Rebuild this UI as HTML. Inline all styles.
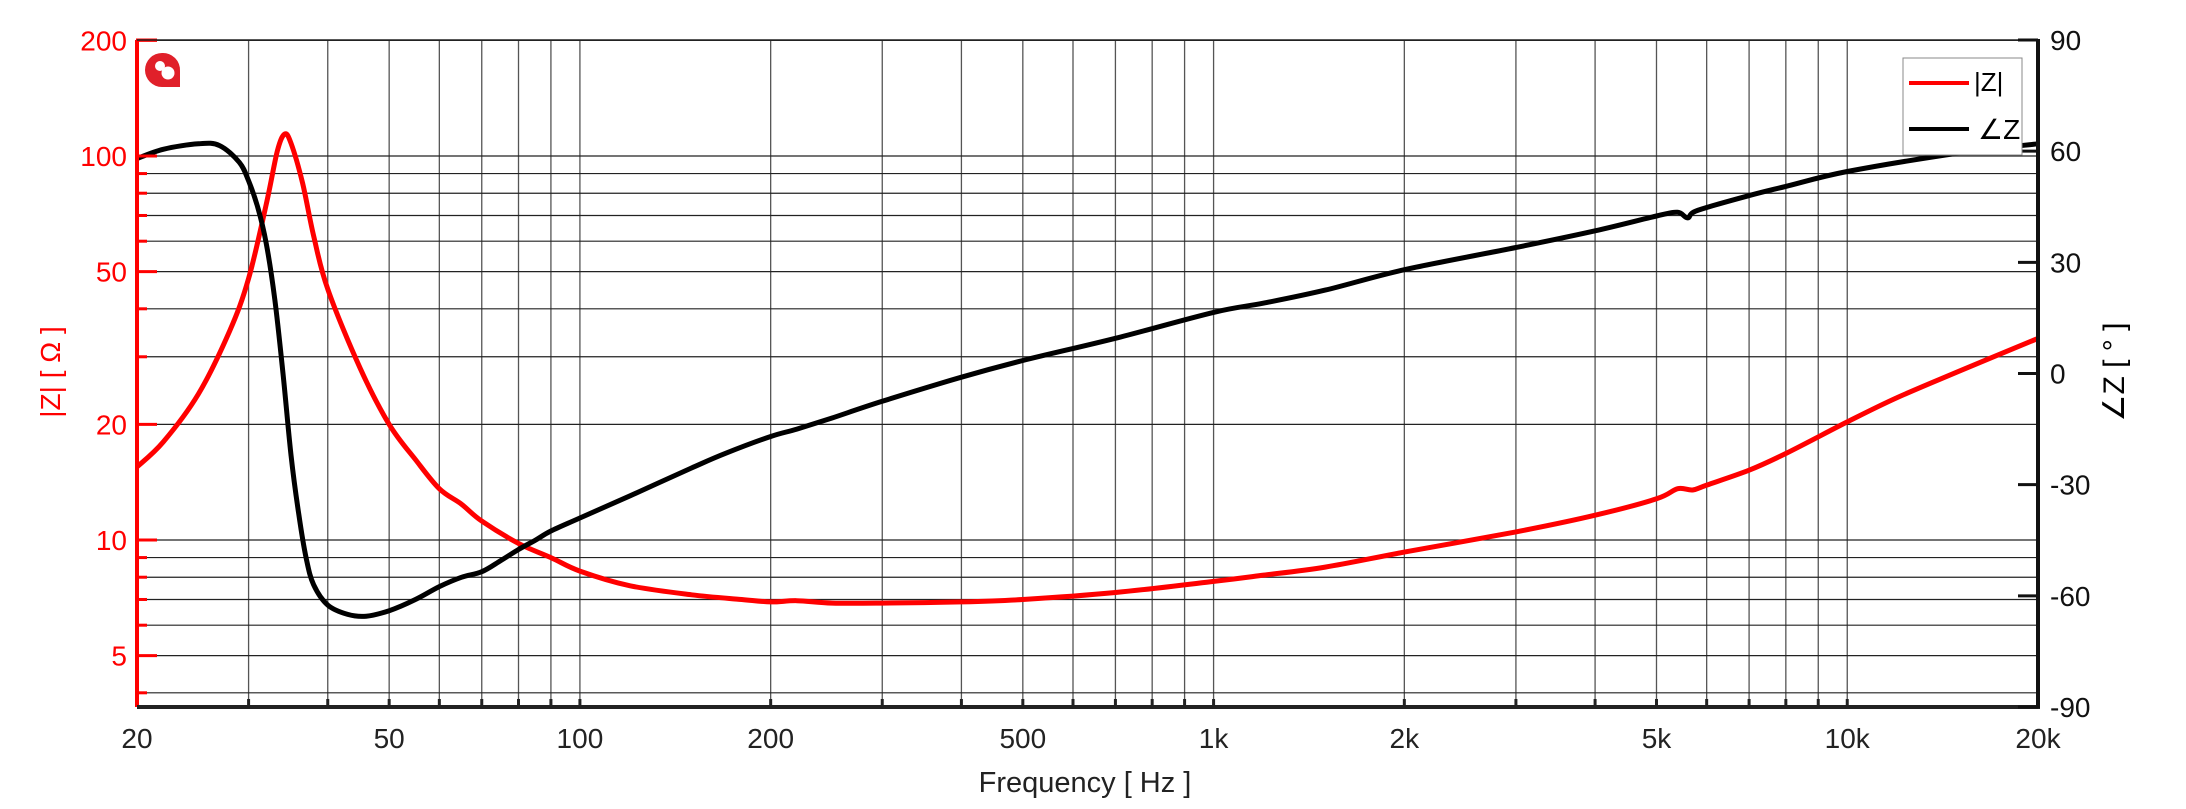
<!DOCTYPE html>
<html><head><meta charset="utf-8"><style>
html,body{margin:0;padding:0;background:#fff;}
svg{display:block;font-family:"Liberation Sans Narrow","Liberation Sans",sans-serif;}
</style></head><body>
<svg id="s" width="2186" height="809" viewBox="0 0 2186 809" xmlns="http://www.w3.org/2000/svg">
<g id="grid"></g>
<g id="curves"></g>
<g id="axes"></g>
<g>
<path d="M162 53 a17 17 0 1 0 0 34 h18 v-16 a17 17 0 0 0 -18 -18z" fill="#e0202a"/>
<circle cx="160" cy="66" r="5" fill="#fff"/>
<circle cx="168" cy="73" r="6.5" fill="#fff"/>
</g>
<rect x="1903" y="58" width="119" height="97" fill="#fff" stroke="#888" stroke-width="1"/>
<line x1="1909" y1="83" x2="1969" y2="83" stroke="#f00" stroke-width="4"/>
<text x="1974" y="91" font-size="26" fill="#000">|Z|</text>
<line x1="1909" y1="129" x2="1969" y2="129" stroke="#000" stroke-width="4"/>
<text x="1978" y="139" font-size="28" fill="#000">∠Z</text>
<text x="1085" y="792" font-size="29" text-anchor="middle" fill="#222">Frequency [ Hz ]</text>
<text transform="translate(60,372) rotate(-90)" font-size="28" text-anchor="middle" fill="#f00">|Z| [ Ω ]</text>
<text transform="translate(2124,372) rotate(-90)" font-size="30" text-anchor="middle" fill="#000">∠Z [ ° ]</text>
</svg>
<script>
var L=137,R=2038,T=40,B=707;
function X(f){return L+(Math.log10(f)-Math.log10(20))/3*(R-L);}
var D=384;
function YZ(z){return 156-(Math.log10(z)-2)*D;}
function YP(p){return T+(90-p)/180*(B-T);}
var ns="http://www.w3.org/2000/svg";
function el(par,tag,at,txt){var e=document.createElementNS(ns,tag);for(var k in at)e.setAttribute(k,at[k]);if(txt!==undefined)e.textContent=txt;document.getElementById(par).appendChild(e);return e;}
var vf=[30,40,50,60,70,80,90,100,200,300,400,500,600,700,800,900,1000,2000,3000,4000,5000,6000,7000,8000,9000,10000];
vf.forEach(function(f){var x=X(f);el('grid','line',{x1:x,y1:T,x2:x,y2:B,stroke:'#555','stroke-width':1.3});
 el('axes','line',{x1:x,y1:B-8,x2:x,y2:B,stroke:'#222','stroke-width':3});});
var hz=[200,100,90,80,70,60,50,40,30,20,10,9,8,7,6,5,4];
hz.forEach(function(z){var y=YZ(z);el('grid','line',{x1:L,y1:y,x2:R,y2:y,stroke:'#222','stroke-width':1.2});
 var maj=[200,100,50,20,10,5].indexOf(z)>=0;
 el('axes','line',{x1:L,y1:y,x2:L+(maj?20:10),y2:y,stroke:'#f00','stroke-width':3});
 if(maj)el('axes','text',{x:L-10,y:y+10,'font-size':28,'text-anchor':'end',fill:'#f00'},String(z));});
function spline(pts,yf){
 var P=pts.map(function(p){return [X(p[0]),yf(p[1])];});
 var d='M'+P[0][0].toFixed(1)+' '+P[0][1].toFixed(1);
 for(var i=0;i<P.length-1;i++){
  var p0=P[i>0?i-1:i],p1=P[i],p2=P[i+1],p3=P[i+2<P.length?i+2:i+1];
  var c1=[p1[0]+(p2[0]-p0[0])/6,p1[1]+(p2[1]-p0[1])/6],c2=[p2[0]-(p3[0]-p1[0])/6,p2[1]-(p3[1]-p1[1])/6];
  d+=' C'+c1[0].toFixed(1)+' '+c1[1].toFixed(1)+' '+c2[0].toFixed(1)+' '+c2[1].toFixed(1)+' '+p2[0].toFixed(1)+' '+p2[1].toFixed(1);
 }return d;}
var zd=[[20,15.5],[22,18],[25,24],[28,35],[30,48],[32,75],[33.3,103],[34.2,114],[35,108],[36.5,85],[38,62],[40,45],[45,28],[50,20],[55,16.2],[60,13.6],[65,12.4],[70,11.2],[80,9.8],[90,9.0],[100,8.3],[120,7.6],[150,7.2],[180,7.0],[200,6.9],[220,6.95],[250,6.85],[300,6.85],[400,6.9],[500,7.0],[700,7.3],[1000,7.8],[1200,8.1],[1500,8.5],[2000,9.3],[3000,10.5],[4000,11.6],[5000,12.8],[5400,13.6],[5700,13.5],[6000,13.9],[7000,15.2],[8000,16.8],[10000,20.3],[12000,23.5],[15000,27.5],[20000,33.5]];
var pd=[[20,58],[22,60.5],[25,62],[27,61.5],[29,57],[30,52],[31,45],[32,35],[33,20],[34,0],[35,-22],[36,-38],[37,-50],[38,-57],[40,-62.5],[43,-65],[46,-65.5],[50,-64],[55,-61],[60,-57.5],[65,-55],[70,-53.5],[75,-50.5],[80,-47.5],[85,-45],[90,-42.5],[100,-39],[120,-33],[150,-25.5],[170,-21.5],[200,-17],[220,-15],[250,-12],[300,-7.5],[400,-1],[500,3.5],[700,9.5],[1000,16.5],[1200,19],[1500,22.5],[2000,28],[3000,34],[4000,38.5],[5000,42.5],[5400,43.5],[5600,42],[5800,44],[7000,48],[8000,50.5],[10000,54.5],[15000,59.5],[20000,62]];
el('curves','path',{d:spline(zd,YZ),fill:'none',stroke:'#f00','stroke-width':5,'stroke-linejoin':'round'});
el('curves','path',{d:spline(pd,YP),fill:'none',stroke:'#000','stroke-width':5,'stroke-linejoin':'round'});
el('axes','line',{x1:L,y1:T,x2:L,y2:B,stroke:'#f00','stroke-width':4});
el('axes','line',{x1:L-1,y1:T,x2:L+20,y2:T,stroke:'#f00','stroke-width':3});
el('axes','line',{x1:L,y1:T,x2:R,y2:T,stroke:'#222','stroke-width':1.5});
el('axes','line',{x1:L,y1:B,x2:R+2,y2:B,stroke:'#222','stroke-width':4});
el('axes','line',{x1:R,y1:T-1,x2:R,y2:B+1,stroke:'#111','stroke-width':4});
for(var p=-90;p<=90;p+=30){var y=YP(p);el('axes','line',{x1:R-20,y1:y,x2:R,y2:y,stroke:'#111','stroke-width':3});
 el('axes','text',{x:R+12,y:y+10,'font-size':28,fill:'#111'},String(p));}
var xl=[[20,'20'],[50,'50'],[100,'100'],[200,'200'],[500,'500'],[1000,'1k'],[2000,'2k'],[5000,'5k'],[10000,'10k'],[20000,'20k']];
xl.forEach(function(a){el('axes','text',{x:X(a[0]),y:748,'font-size':28,'text-anchor':'middle',fill:'#222'},a[1]);});
</script>
</body></html>
